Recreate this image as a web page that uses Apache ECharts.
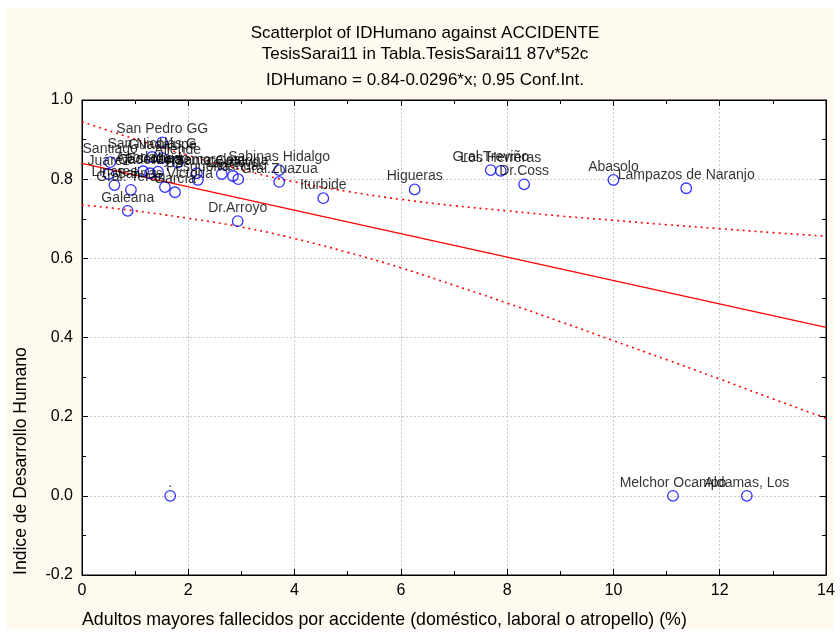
<!DOCTYPE html>
<html><head><meta charset="utf-8">
<script src="https://cdn.jsdelivr.net/npm/echarts@6/dist/echarts.min.js"></script>
<style>
html,body{margin:0;padding:0;background:#fff;}
#bg{position:absolute;left:6px;top:8px;width:828px;height:621px;background:#fffaf0;}
#c{position:absolute;left:0;top:0;width:840px;height:635px;}
</style></head>
<body><div id="bg"></div><div id="c"></div>
<script>
// ---- data ----
const pointNames = ["San Pedro GG","San Nicolás G","Santiago","Guadalupe","Allende","Juárez","Apodaca","Cadereyta","Escobedo","Montemorelos","Santa Catarina","Cerralvo","Anáhuac","Linares","Gral. Terán","Salinas Victoria","García","Pesquería","Sabinas Hidalgo","Gral.Zuazua","Galeana","Dr.Arroyo","Iturbide","Higueras","Gral.Treviño","Los Herreras","Dr.Coss","Abasolo","Lampazos de Naranjo","Melchor Ocampo","Aldamas, Los","."];
const pointX = [1.51,1.32,0.53,1.51,1.80,0.50,1.15,1.28,1.43,2.16,2.63,2.84,2.94,0.61,0.92,1.56,1.75,2.18,3.71,3.71,0.86,2.93,4.54,6.26,7.69,7.88,8.32,10.00,11.37,11.12,12.51,1.66];
const pointY = [0.893,0.856,0.843,0.853,0.842,0.813,0.820,0.815,0.819,0.815,0.813,0.808,0.800,0.785,0.773,0.780,0.767,0.798,0.823,0.793,0.720,0.694,0.752,0.774,0.823,0.821,0.787,0.798,0.777,0.000,0.000,0.000];
const fitX = [0, 14];
const fitY = [0.840, 0.4256];
const bandX = [0,1,2,3,4,5,6,7,8,9,10,11,12,13,14];
const bandUpper = [0.945,0.901,0.860,0.824,0.793,0.769,0.749,0.733,0.720,0.707,0.696,0.685,0.675,0.665,0.656];
const bandLower = [0.735,0.720,0.701,0.679,0.650,0.615,0.576,0.532,0.487,0.440,0.392,0.344,0.295,0.245,0.196];
const xTicks = [0,2,4,6,8,10,12,14];
const yTicks = [-0.2,0.0,0.2,0.4,0.6,0.8,1.0];

const FONT = "Liberation Sans, Arial, Helvetica, sans-serif";
const chart = echarts.init(document.getElementById('c'), null, {renderer:'canvas'});

const scatterData = pointNames.map((n,i)=>({name:n, value:[pointX[i], pointY[i]]}));
const pair = (xs, ys) => xs.map((x,i)=>[x, ys[i]]);

const gridLine = {show:true, lineStyle:{color:'#c8c8c8', type:[2,2], width:1}};
const titleStyle = {fontSize:17, fontWeight:'normal', color:'#000', fontFamily:FONT};
const option = {
  backgroundColor:'transparent',
  animation:false,
  textStyle:{fontFamily:FONT},
  title:[
    {text:'Scatterplot of IDHumano against ACCIDENTE', left:420, top:20, textAlign:'center', textStyle:titleStyle},
    {text:'TesisSarai11 in Tabla.TesisSarai11 87v*52c', left:420, top:41, textAlign:'center', textStyle:titleStyle},
    {text:'IDHumano = 0.84-0.0296*x; 0.95 Conf.Int.', left:420, top:67, textAlign:'center', textStyle:titleStyle}
  ],
  grid:{left:82, right:14, top:100, bottom:60, show:true, backgroundColor:'#fff', borderColor:'#000', borderWidth:1},
  xAxis:[{
    type:'value', min:xTicks[0], max:xTicks[xTicks.length-1], interval:2,
    axisLine:{show:true, onZero:false, lineStyle:{color:'#000', width:1}},
    axisTick:{show:true, inside:true, length:6, lineStyle:{color:'#000'}},
    minorTick:{show:true, splitNumber:2, length:4, lineStyle:{color:'#000'}},
    splitLine:gridLine,
    axisLabel:{fontSize:16, color:'#000', margin:8, fontFamily:FONT}
  },{
    type:'value', position:'top', min:xTicks[0], max:xTicks[xTicks.length-1], interval:2,
    axisLine:{show:true, onZero:false, lineStyle:{color:'#000'}},
    axisTick:{show:true, inside:true, length:6, lineStyle:{color:'#000'}},
    minorTick:{show:true, splitNumber:2, length:4, lineStyle:{color:'#000'}},
    splitLine:{show:false}, axisLabel:{show:false}
  }],
  yAxis:[{
    type:'value', min:yTicks[0], max:yTicks[yTicks.length-1], interval:0.2,
    axisLine:{show:true, onZero:false, lineStyle:{color:'#000', width:1}},
    axisTick:{show:true, inside:true, length:6, lineStyle:{color:'#000'}},
    minorTick:{show:true, splitNumber:2, length:4, lineStyle:{color:'#000'}},
    splitLine:gridLine,
    axisLabel:{fontSize:16, color:'#000', margin:9, fontFamily:FONT, formatter:v=>v.toFixed(1)}
  },{
    type:'value', position:'right', min:yTicks[0], max:yTicks[yTicks.length-1], interval:0.2,
    axisLine:{show:true, onZero:false, lineStyle:{color:'#000'}},
    axisTick:{show:true, inside:true, length:6, lineStyle:{color:'#000'}},
    minorTick:{show:true, splitNumber:2, length:4, lineStyle:{color:'#000'}},
    splitLine:{show:false}, axisLabel:{show:false}
  }],
  graphic:[
    {type:'text', left:82, top:611, style:{text:'Adultos mayores fallecidos por accidente (doméstico, laboral o atropello) (%)', fill:'#000', font:'17.8px '+FONT}},
    {type:'text', x:12, y:575, rotation:Math.PI/2, style:{text:'Indice de Desarrollo Humano', fill:'#000', font:'17.6px '+FONT, textAlign:'left', textVerticalAlign:'top'}}
  ],
  series:[
    {type:'line', data:pair(fitX, fitY), symbol:'none', z:2, silent:true,
     lineStyle:{color:'#ff0000', width:1.3}},
    {type:'line', data:pair(bandX, bandUpper), symbol:'none', smooth:true, z:2, silent:true,
     lineStyle:{color:'#ff0000', width:1.6, type:[2,4]}},
    {type:'line', data:pair(bandX, bandLower), symbol:'none', smooth:true, z:2, silent:true,
     lineStyle:{color:'#ff0000', width:1.6, type:[2,4]}},
    {type:'scatter', data:scatterData, symbol:'circle', symbolSize:10.5, z:3,
     itemStyle:{color:'rgba(0,0,0,0)', borderColor:'#0000ff', borderWidth:1.3},
     label:{show:true, position:'top', distance:0, formatter:'{b}', color:'#000', fontSize:14, fontFamily:FONT},
     labelLayout:{hideOverlap:false}
    }
  ]
};
chart.setOption(option);
</script>
</body></html>
